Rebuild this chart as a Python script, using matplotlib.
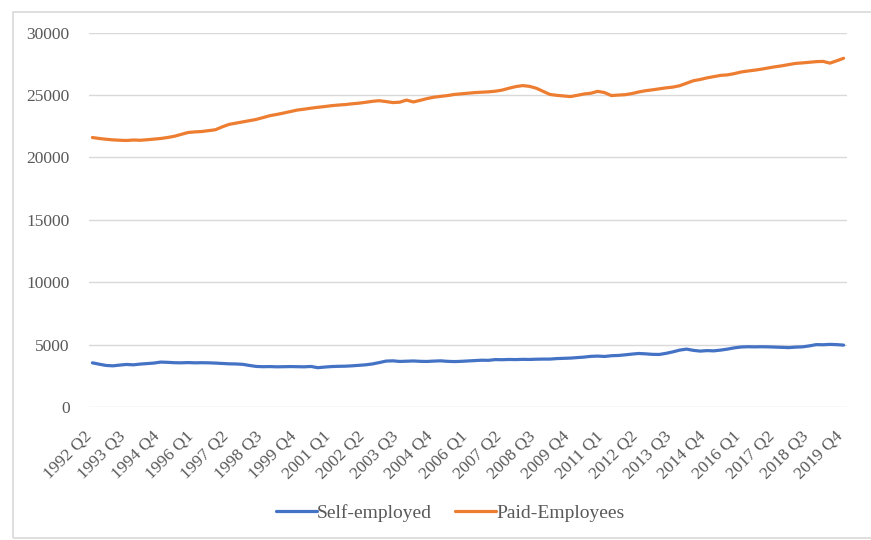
import matplotlib
matplotlib.use("Agg")
import matplotlib.pyplot as plt
from matplotlib.patches import Rectangle
from matplotlib.transforms import ScaledTranslation

# Quarterly periods, 1992 Q2 .. 2019 Q4
start_year, start_q = 1992, 2
n_quarters = 111
quarters = []
y, q = start_year, start_q
for _ in range(n_quarters):
    quarters.append(f"{y} Q{q}")
    q += 1
    if q > 4:
        q = 1
        y += 1

# Employment levels (thousands)
self_employed = [
    3540, 3430, 3330, 3300, 3360, 3410, 3380, 3440, 3480, 3520,
    3600, 3580, 3550, 3540, 3560, 3540, 3550, 3540, 3520, 3490,
    3460, 3450, 3420, 3330, 3250, 3230, 3240, 3220, 3230, 3240,
    3230, 3220, 3250, 3150, 3200, 3240, 3260, 3270, 3300, 3340,
    3380, 3450, 3560, 3680, 3700, 3650, 3670, 3690, 3660, 3650,
    3680, 3700, 3660, 3640, 3660, 3690, 3720, 3750, 3740, 3800,
    3790, 3810, 3800, 3820, 3810, 3830, 3840, 3840, 3880, 3900,
    3920, 3960, 4000, 4060, 4080, 4050, 4110, 4130, 4180, 4240,
    4290, 4260, 4220, 4210, 4300, 4420, 4560, 4640, 4540, 4480,
    4520, 4500, 4560, 4640, 4740, 4810, 4830, 4820, 4830, 4820,
    4800, 4780, 4760, 4800, 4820, 4900, 5000, 4990, 5020, 5000,
    4960,
]

paid_employees = [
    21600, 21520, 21460, 21410, 21380, 21360, 21400, 21380, 21420, 21470,
    21520, 21600, 21700, 21850, 22000, 22050, 22080, 22150, 22220, 22450,
    22650, 22750, 22850, 22950, 23050, 23200, 23350, 23450, 23560, 23680,
    23800, 23870, 23950, 24020, 24080, 24150, 24200, 24240, 24300, 24350,
    24420, 24500, 24550, 24480, 24400, 24430, 24600, 24450, 24580, 24720,
    24830, 24900, 24960, 25050, 25100, 25150, 25200, 25230, 25260, 25310,
    25400, 25550, 25680, 25760, 25700, 25550, 25300, 25050, 24980, 24930,
    24880, 24980, 25090, 25150, 25300, 25200, 24960, 25000, 25030, 25120,
    25250, 25350, 25420, 25500, 25580, 25640, 25750, 25950, 26150, 26250,
    26380, 26480, 26580, 26620, 26720, 26850, 26930, 27000, 27080, 27180,
    27270, 27350, 27450, 27540, 27580, 27630, 27680, 27700, 27560, 27750,
    27950,
]

y_ticks = [0, 5000, 10000, 15000, 20000, 25000, 30000]
label_step = 5

BLUE = "#4472C4"
ORANGE = "#ED7D31"
TEXT = "#595959"
GRID = "#D9D9D9"
FONT = ["Liberation Serif", "DejaVu Serif"]

plt.rcParams["font.family"] = FONT

fig = plt.figure(figsize=(8.71, 5.40), dpi=100)
ax = fig.add_axes([89 / 871, 1 - 407 / 540, (847 - 89) / 871, (407 - 32.7) / 540])

x = list(range(n_quarters))
ax.plot(x, self_employed, color=BLUE, lw=2.3, label="Self-employed", solid_capstyle="round")
ax.plot(x, paid_employees, color=ORANGE, lw=2.3, label="Paid-Employees", solid_capstyle="round")

ax.set_xlim(-0.5, n_quarters - 0.5)
ax.set_ylim(0, 30000)
ax.set_yticks(y_ticks)
ax.set_yticklabels([str(v) for v in y_ticks])
ax.grid(axis="y", color=GRID, lw=1.0)
ax.set_axisbelow(True)

tick_pos = x[::label_step]
ax.set_xticks(tick_pos)
ax.set_xticklabels([quarters[i] for i in tick_pos], rotation=45, ha="right",
                   va="top", rotation_mode="anchor")

for s in ax.spines.values():
    s.set_visible(False)
ax.tick_params(axis="both", length=0, colors=TEXT, labelsize=12.5)
ax.tick_params(axis="y", pad=14)
ax.tick_params(axis="x", pad=15)

# nudge the slanted period labels slightly left of their ticks
shift = ScaledTranslation(-9 / 100, 0, fig.dpi_scale_trans)
for lbl in ax.get_xticklabels():
    lbl.set_transform(lbl.get_transform() + shift)

fig.legend(loc="center", bbox_to_anchor=(0.517, 0.05), ncol=2, frameon=False,
           fontsize=14, labelcolor=TEXT, handlelength=2.1, handletextpad=0.0,
           columnspacing=1.2)

# light frame around the chart area
fig.add_artist(Rectangle((13 / 871, 2 / 540), 1.0, 1 - 14 / 540, transform=fig.transFigure,
                         fill=False, edgecolor="#D9D9D9", lw=1.2))

fig.savefig("out.png", dpi=100)
